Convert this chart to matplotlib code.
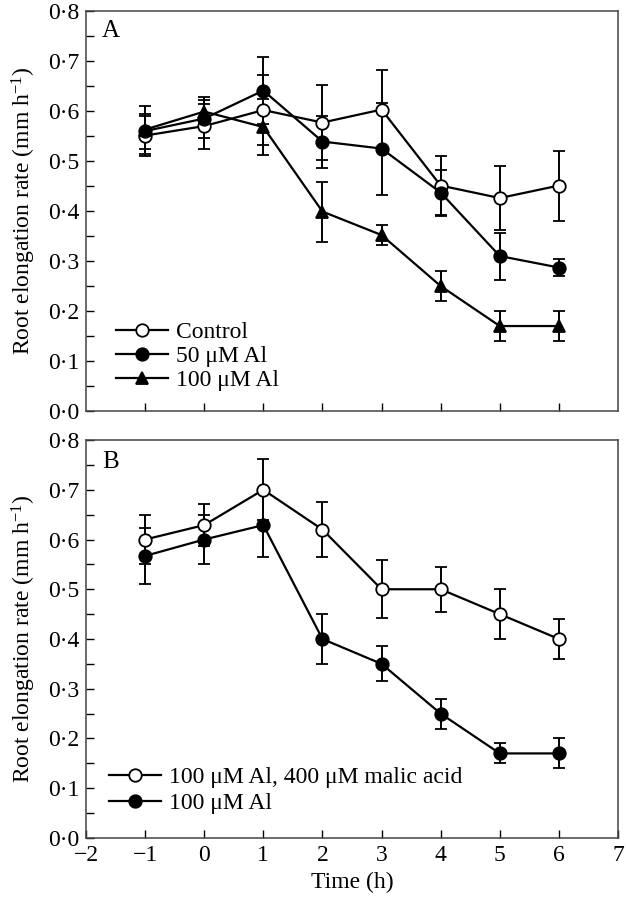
import numpy as np
import matplotlib
matplotlib.use("Agg")
import matplotlib.pyplot as plt
from matplotlib.ticker import MultipleLocator, FuncFormatter

plt.rcParams['font.family'] = ['Liberation Serif', 'DejaVu Serif']
plt.rcParams['mathtext.fontset'] = 'custom'
plt.rcParams['mathtext.rm'] = 'Liberation Serif'
plt.rcParams['mathtext.it'] = 'Liberation Serif:italic'

time = [-1, 0, 1, 2, 3, 4, 5, 6]

# panel A
control = [0.551, 0.570, 0.602, 0.577, 0.603, 0.451, 0.426, 0.451]
control_err = [0.040, 0.045, 0.070, 0.075, 0.080, 0.060, 0.064, 0.070]
al50 = [0.560, 0.585, 0.641, 0.539, 0.525, 0.437, 0.310, 0.287]
al50_err = [0.035, 0.038, 0.067, 0.052, 0.092, 0.045, 0.047, 0.017]
al100 = [0.563, 0.599, 0.568, 0.399, 0.352, 0.250, 0.170, 0.170]
al100_err = [0.048, 0.030, 0.056, 0.060, 0.020, 0.030, 0.030, 0.030]
labels_a = ['Control', '50 \u03bcM Al', '100 \u03bcM Al']

# panel B
malic = [0.600, 0.629, 0.700, 0.620, 0.500, 0.500, 0.450, 0.400]
malic_err = [0.050, 0.042, 0.061, 0.055, 0.058, 0.045, 0.050, 0.040]
al100_b = [0.567, 0.600, 0.629, 0.400, 0.350, 0.250, 0.170, 0.170]
al100_b_err = [0.057, 0.050, 0.064, 0.050, 0.035, 0.030, 0.020, 0.030]
labels_b = ['100 \u03bcM Al, 400 \u03bcM malic acid', '100 \u03bcM Al']

fig = plt.figure(figsize=(6.26, 9.0), dpi=100)
axA = fig.add_axes([0.1374, 0.5433, 0.8498, 0.4444])
axB = fig.add_axes([0.1374, 0.0689, 0.8498, 0.4422])

fs = 17
lw = 1.6
ms = 9


def series(ax, y, e, marker, filled):
    c = ax.errorbar(time, y, yerr=e, color='black', lw=lw, elinewidth=1.4,
                    capsize=4, capthick=1.4, marker=marker, ms=ms,
                    mfc='black' if filled else 'white', mec='black', mew=1.3)
    return c[0]


hA = [series(axA, control, control_err, 'o', False),
      series(axA, al50, al50_err, 'o', True),
      series(axA, al100, al100_err, '^', True)]

hB = [series(axB, malic, malic_err, 'o', False),
      series(axB, al100_b, al100_b_err, 'o', True)]

fmt = FuncFormatter(lambda v, p: ('%.1f' % v).replace('.', '\u00b7'))
for ax in (axA, axB):
    ax.set_xlim(-2, 7)
    ax.set_ylim(0, 0.8)
    ax.yaxis.set_major_locator(MultipleLocator(0.1))
    ax.yaxis.set_minor_locator(MultipleLocator(0.05))
    ax.yaxis.set_major_formatter(fmt)
    ax.tick_params(axis='both', which='both', direction='in', length=6,
                   width=1, labelsize=fs, top=False, right=False, pad=5)
    for s in ax.spines.values():
        s.set_color('#444444')
        s.set_linewidth(1.1)
    ax.set_ylabel('Root elongation rate (mm h$^{-1}$)', fontsize=fs, labelpad=7)

axA.legend(hA, labels_a, loc='lower left', frameon=False, fontsize=fs,
           handlelength=2.2, handletextpad=0.35, labelspacing=0.1,
           borderpad=0, borderaxespad=0, bbox_to_anchor=(0.056, 0.05))
axB.legend(hB, labels_b, loc='lower left', frameon=False, fontsize=fs,
           handlelength=2.2, handletextpad=0.35, labelspacing=0.2,
           borderpad=0, borderaxespad=0, bbox_to_anchor=(0.043, 0.06))

axA.set_xticks(time)
axA.tick_params(axis='x', labelbottom=False)
axB.set_xticks(range(-2, 8))
axB.set_xticklabels([('%d' % t).replace('-', '\u2212') for t in range(-2, 8)])
axB.set_xlabel('Time (h)', fontsize=fs, labelpad=4)

axA.text(0.03, 0.978, 'A', transform=axA.transAxes, fontsize=18, va='top')
axB.text(0.03, 0.972, 'B', transform=axB.transAxes, fontsize=18, va='top')

fig.savefig('out.png', dpi=100)
